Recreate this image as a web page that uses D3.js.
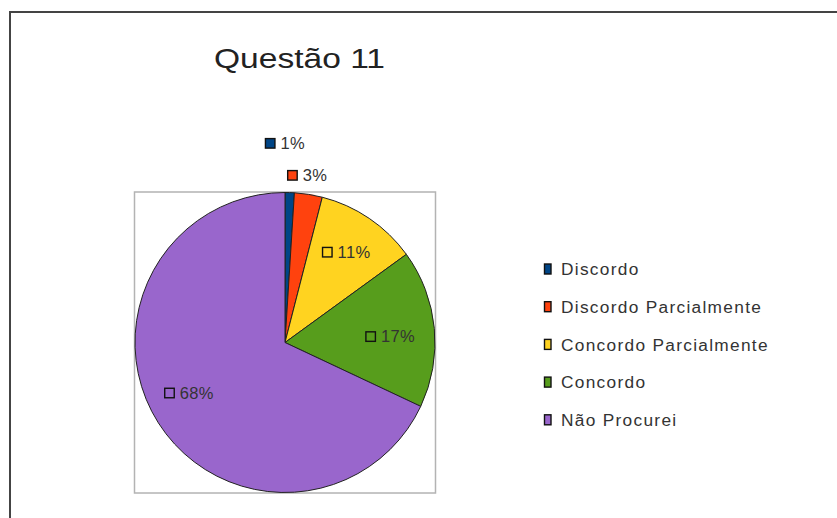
<!DOCTYPE html>
<html><head><meta charset="utf-8">
<script src="https://cdn.jsdelivr.net/npm/d3@7"></script>
<style>html,body{margin:0;padding:0;background:#fff;}svg{display:block;}</style>
</head><body>
<script>
const categories = ["Discordo","Discordo Parcialmente","Concordo Parcialmente","Concordo","Não Procurei"];
const values = [1,3,11,17,68];
const labels = ["1%","3%","11%","17%","68%"];
const colors = ["#004586","#ff420e","#ffd320","#579d1c","#9966cc"];

const W=837,H=518;
const svg=d3.select("body").append("svg").attr("width",W).attr("height",H);
const font="'Liberation Sans', Arial, sans-serif";

// outer frame
svg.append("path").attr("d",`M10,${H+2}V12H${W+2}`).attr("fill","none").attr("stroke","#444").attr("stroke-width",2);

// title
svg.append("text").attr("x",214).attr("y",68)
  .attr("font-family",font).attr("font-size",27.5).attr("fill","#222")
  .attr("textLength",171).attr("lengthAdjust","spacingAndGlyphs").text("Questão 11");

// plot frame
const cx=285, cy=342.5, r=150;
svg.append("rect").attr("x",cx-r-0.5).attr("y",cy-r-0.5).attr("width",2*r+1).attr("height",2*r+1)
  .attr("fill","none").attr("stroke","#b3b3b3").attr("stroke-width",1.5);

const pie=d3.pie().sort(null).value(d=>d)(values);
const arc=d3.arc().innerRadius(0).outerRadius(r);
const g=svg.append("g").attr("transform",`translate(${cx},${cy})`);
g.selectAll("path").data(pie).join("path").attr("d",arc)
  .attr("fill",(d,i)=>colors[i]).attr("stroke","#222").attr("stroke-width",1);

// data labels: group (square + text) placed along the slice bisector, with small layout nudges
const radFactor=[1.33,1.13,0.73,0.72,0.70];
const nudgeX=[-6,-4,0,-2,-7];
const nudgeY=[0,0,0,4,-6];
pie.forEach((d,i)=>{
  const a=(d.startAngle+d.endAngle)/2;
  const rr=r*radFactor[i];
  const gx=cx+Math.sin(a)*rr+nudgeX[i], gy=cy-Math.cos(a)*rr+nudgeY[i];
  const outside = radFactor[i]>1;
  const t=svg.append("text").attr("font-family",font).attr("font-size",16.5)
    .attr("letter-spacing",0.4).attr("fill","#333").text(labels[i]);
  const tw=t.node().getComputedTextLength();
  const total=10+5+tw;
  const x0=gx-total/2;
  svg.append("rect").attr("x",x0).attr("y",gy-4.5).attr("width",9.5).attr("height",9.5)
    .attr("fill",outside?colors[i]:"none").attr("stroke","#111").attr("stroke-width",1.4);
  t.attr("x",x0+15).attr("y",gy+6);
});

// legend
const lg=svg.append("g");
categories.forEach((c,i)=>{
  const y=269+i*37.7;
  lg.append("rect").attr("x",544.5).attr("y",y-5).attr("width",6.5).attr("height",10)
    .attr("fill",colors[i]).attr("stroke","#111").attr("stroke-width",1.4);
  lg.append("text").attr("x",561).attr("y",y+6.3).attr("font-family",font).attr("font-size",17.3)
    .attr("letter-spacing",1.3).attr("fill","#333").text(c);
});
</script>
</body></html>
